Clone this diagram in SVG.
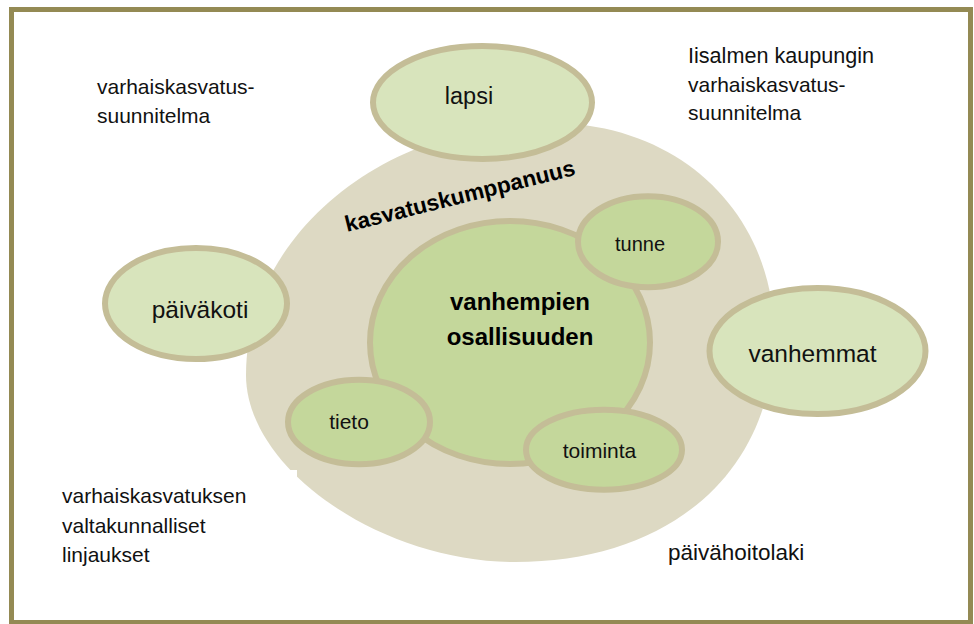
<svg xmlns="http://www.w3.org/2000/svg" width="974" height="624" viewBox="0 0 974 624">
<style>
.body{font-family:"Liberation Sans",Arial,sans-serif;font-size:21px;fill:#111}
.lbl{font-family:"Liberation Sans",Arial,sans-serif;fill:#111;text-anchor:middle}
.bold{font-family:"Liberation Sans",Arial,sans-serif;font-weight:bold;fill:#000}
.outer{fill:#D8E4BC;stroke:#C4BD97;stroke-width:6}
.inner{fill:#C4D79B;stroke:#C4BD97;stroke-width:6}
</style>
<rect x="0" y="0" width="974" height="624" fill="#FFFFFF"/>
<rect id="frame" x="11.5" y="9.5" width="959" height="613" fill="none" stroke="#948A54" stroke-width="5"/>
<g id="kasvatuskumppanuus-area">
<path d="M246,375 C246,235.8 382.1,123 550,123 C684.4,123 774,218.4 774,335 C774,471.2 670.4,562 515,562 C380.5,562 246,468.5 246,375 Z" fill="#DDD9C3"/>
<text class="bold" x="347" y="232" font-size="22.5" transform="rotate(-14 347 232)">kasvatuskumppanuus</text>
</g>
<g id="text-vasu">
<text class="body" x="97" y="94">varhaiskasvatus-</text>
<text class="body" x="97" y="123">suunnitelma</text>
</g>
<g id="text-iisalmi">
<text class="body" x="688" y="63" style="font-size:21.6px">Iisalmen kaupungin</text>
<text class="body" x="688" y="92">varhaiskasvatus-</text>
<text class="body" x="688" y="120">suunnitelma</text>
</g>
<g id="text-linjaukset">
<rect x="40" y="470" width="257" height="110" fill="#FFFFFF"/>
<text class="body" x="62" y="503">varhaiskasvatuksen</text>
<text class="body" x="62" y="533">valtakunnalliset</text>
<text class="body" x="62" y="562">linjaukset</text>
</g>
<g id="text-laki">
<text class="body" x="668" y="560" style="font-size:22.5px">päivähoitolaki</text>
</g>
<g id="connectors"></g>
<g id="node-osallisuus">
<ellipse class="inner" cx="510" cy="342.5" rx="140" ry="121.5"/>
<text class="bold" x="520" y="310" font-size="24" text-anchor="middle">vanhempien</text>
<text class="bold" x="520" y="345" font-size="24" text-anchor="middle">osallisuuden</text>
</g>
<g id="node-tunne">
<ellipse class="inner" cx="648" cy="241.7" rx="70" ry="45.5"/>
<text class="lbl" x="640" y="251" font-size="20">tunne</text>
</g>
<g id="node-tieto">
<ellipse class="inner" cx="359" cy="422" rx="71" ry="42.3"/>
<text class="lbl" x="349" y="429" font-size="21">tieto</text>
</g>
<g id="node-toiminta">
<ellipse class="inner" cx="604" cy="449.7" rx="78" ry="40"/>
<text class="lbl" x="599.5" y="458" font-size="21">toiminta</text>
</g>
<g id="node-lapsi">
<ellipse class="outer" cx="482.5" cy="102.5" rx="109.5" ry="56.5"/>
<text class="lbl" x="469" y="104" font-size="23.5">lapsi</text>
</g>
<g id="node-paivakoti">
<ellipse class="outer" cx="196" cy="303.5" rx="91" ry="55.5"/>
<text class="lbl" x="200" y="318" font-size="24.5">päiväkoti</text>
</g>
<g id="node-vanhemmat">
<ellipse class="outer" cx="817.5" cy="351" rx="108" ry="63"/>
<text class="lbl" x="812.5" y="361.5" font-size="24.5">vanhemmat</text>
</g>
</svg>
